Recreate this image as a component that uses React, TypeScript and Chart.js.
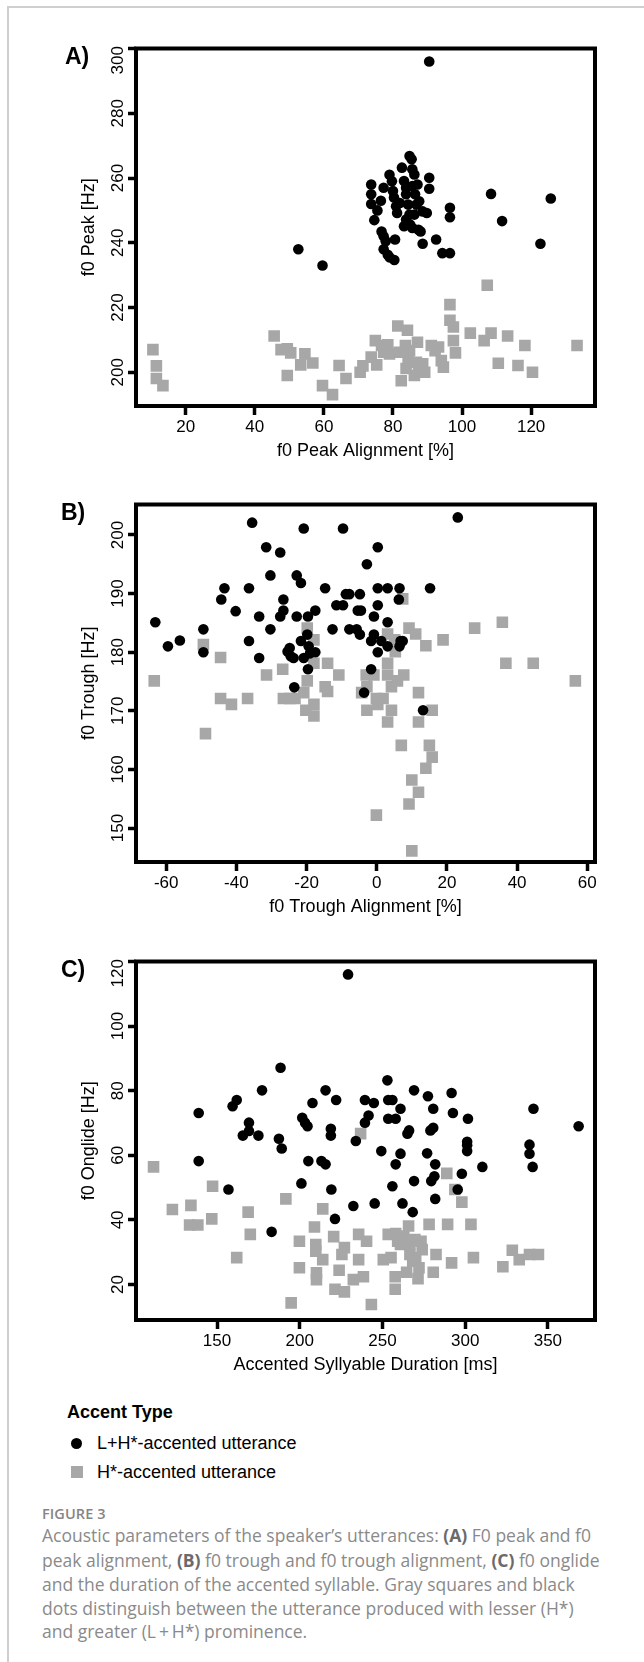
import React, { useEffect, useRef } from 'react';
import { Chart, registerables } from 'chart.js';

Chart.register(...registerables);

// ---------- Panel A: f0 peak vs f0 peak alignment ----------
const peakAlignLH = [90.5, 52.6, 59.6, 73.7, 73.7, 73.7, 74.6, 75.5, 76.5, 77.3, 76.7, 77.3, 77.9, 77.3, 78.5, 79, 80.4, 80.6, 79, 79.7, 80, 80.3, 80.9, 81.2, 82, 82.6, 83.2, 83.8, 83.8, 84.4, 84.8, 83.2, 83.8, 84.8, 85.4, 85.6, 86.2, 85.6, 86.4, 86.8, 86.2, 85, 85.6, 87.4, 88, 87.1, 87.6, 88.6, 89.8, 90.5, 90.5, 88.6, 92.5, 94.3, 96.5, 96.5, 96.5, 108.4, 111.6, 122.7, 125.7];
const peakLH = [296, 238, 233, 258, 255, 252, 247, 250, 253, 257, 243.5, 242, 240.5, 238, 236.3, 235.5, 234.7, 241, 261, 259, 256, 254, 251.3, 249.2, 252.3, 263.2, 259.1, 257, 255, 251.8, 248.7, 245.1, 247.2, 266.8, 265.8, 262.7, 261.1, 257.5, 255, 251.8, 248.7, 245.6, 244.6, 244, 243.5, 258, 252.8, 249.7, 249.2, 260.1, 256.7, 239.7, 241, 236.8, 236.8, 250.8, 247.9, 255.1, 246.7, 239.7, 253.7];
const peakAlignH = [10.5, 11.5, 11.5, 13.4, 45.6, 47.6, 49.4, 50.4, 49.4, 54.5, 53.3, 56.8, 59.6, 62.5, 64.4, 66.4, 70.5, 71.3, 74.9, 73.7, 75.3, 76.7, 77.3, 78.5, 79, 81.4, 84.2, 81.8, 83.6, 84.8, 87.1, 82.4, 83.8, 84.4, 86.2, 87.4, 88.6, 89.2, 86.8, 91.1, 92.2, 93.2, 94, 94.6, 96.5, 96.5, 97.5, 97.5, 98.1, 102.4, 106.4, 107.3, 108.4, 110.5, 113.2, 116.2, 118.2, 120.4, 133.3];
const peakH = [207, 202, 198.1, 195.9, 211.2, 207, 207.3, 206, 199, 205.7, 202.3, 202.9, 195.9, 193.1, 202.1, 198.1, 200, 202, 209.8, 204.7, 202.3, 208.3, 206.2, 208.5, 205.7, 214.3, 213, 206.2, 208.3, 206.7, 209.3, 197.4, 201.2, 203.6, 199, 200.5, 202.6, 200, 203.1, 208.3, 206.7, 207.8, 203.6, 201.6, 220.9, 216.1, 214, 209.8, 206, 212.1, 209.8, 226.9, 212.1, 202.8, 211.2, 202.1, 208.3, 200, 208.3];
const peakAlignTicks = [20, 40, 60, 80, 100, 120];
const peakTicks = [200, 220, 240, 260, 280, 300];

// ---------- Panel B: f0 trough vs f0 trough alignment ----------
const troughAlignLH = [-63.1, -59.5, -56.1, -49.4, -49.4, -44.3, -43.4, -40.2, -36.4, -36.4, -35.5, -33.5, -33.5, -31.5, -30.3, -30.3, -27.5, -26.6, -26.6, -27.5, -25.4, -24.8, -24.5, -23.7, -23.5, -22.8, -22.8, -21.6, -21.6, -20.8, -20.8, -19.8, -19.6, -19.4, -19.6, -19, -17.5, -17.5, -14.7, -12.6, -11.5, -9.6, -9.6, -8.8, -7.8, -7.8, -5.7, -5.4, -4.5, -4.8, -4.8, -2.8, -3.6, -1.6, -0.8, -0.8, -1.6, 0.3, 0.3, 0.3, 0.3, 1.3, 3.1, 3.1, 3.1, 6.5, 6.3, 6.8, 6.5, 7.4, 13.2, 15.2, 23.1];
const troughLH = [185.1, 181, 182, 183.9, 180, 189, 190.9, 187, 190.9, 181.9, 202.1, 186.1, 179, 197.9, 193.1, 183.9, 197, 189, 187.1, 186.1, 180.1, 180.7, 179.3, 179, 174, 193.1, 186.1, 191.8, 181.9, 201.1, 179, 183, 186.1, 181, 177.1, 179.8, 187.1, 180, 190.9, 183.9, 188, 201.1, 188, 189.9, 189.9, 183.9, 183.9, 187.1, 187.1, 183, 189.9, 195, 173.1, 177.1, 186.1, 183, 181.9, 197.9, 190.9, 188, 180, 181.9, 190.9, 185.1, 181, 190.9, 189, 181.9, 181, 181.9, 170.1, 190.9, 203];
const troughAlignH = [-63.4, -49.4, -48.8, -44.5, -44.5, -41.4, -36.8, -31.4, -26.8, -26.6, -24.8, -23.3, -20.8, -19.8, -19.8, -20.2, -17.9, -17.9, -17.9, -17.9, -14, -14.7, -14, -10.8, -3, -2.8, -4.3, -2.8, -0.8, -0.1, 0.3, 1.8, -0.1, 3.1, 3.1, 3.1, 3.1, 4.2, 4.2, 5.1, 5.3, 5.9, 7.7, 7.4, 7, 9.2, 10, 9.2, 10, 11.1, 11.9, 11.9, 11.9, 14, 14, 15, 15.8, 15.8, 18.9, 27.9, 35.8, 36.8, 44.6, 56.6];
const troughH = [175.1, 181.3, 166.1, 179.1, 172.1, 171.1, 172.1, 176.1, 177.1, 172.1, 172.1, 172.1, 173.1, 184.1, 175.1, 170.1, 182.1, 178.1, 171.1, 169.1, 178.1, 174.1, 173.3, 176.1, 176.1, 174.1, 173.1, 170.1, 176.1, 172.1, 171.1, 172.1, 152.2, 183.1, 178.1, 176.1, 168.1, 174.1, 170.1, 182.1, 180.1, 175.1, 176.1, 189.1, 164.1, 184.1, 158.2, 154.1, 146.1, 183.1, 173.1, 168.1, 156.1, 181.1, 160.2, 164.1, 162.1, 170.1, 182.1, 184.1, 185.1, 178.1, 178.1, 175.1];
const troughAlignTicks = [-60, -40, -20, 0, 20, 40, 60];
const troughTicks = [150, 160, 170, 180, 190, 200];

// ---------- Panel C: f0 onglide vs accented syllable duration ----------
const durationLH = [229.2, 188.4, 253, 138.9, 138.9, 159.4, 161.9, 169.3, 169.3, 165.6, 175, 177.2, 156.9, 187.4, 189.1, 183, 201, 201.5, 203.2, 204.7, 205.2, 207.7, 213.1, 215.6, 215.6, 218.8, 218.8, 219.1, 222, 221.3, 232.4, 233.9, 239.4, 239.4, 241.6, 244.8, 245.3, 249.3, 253.5, 253.5, 256, 256, 258, 258, 260.9, 260.9, 262.1, 265.1, 266.1, 268.3, 269.1, 269.1, 277, 277.5, 279, 280.7, 280.7, 279.5, 281.4, 281.9, 281.9, 291.8, 292.6, 298, 295.5, 301.7, 301.2, 301.2, 301.2, 310.4, 338.9, 338.9, 340.8, 341.3, 368.6];
const onglideLH = [116, 87.1, 83.2, 73.1, 58.2, 75.2, 77.1, 70.1, 67.5, 66.1, 66.1, 80.1, 49.4, 65.1, 62.1, 36.3, 51.3, 71.6, 70.1, 69, 58.2, 76.2, 58.2, 57.2, 80.1, 68.2, 66.1, 49.4, 77.1, 40.3, 44.3, 64.4, 77.1, 70.1, 72.3, 76.2, 45.1, 61.3, 77.1, 71.3, 77.1, 50.4, 71.3, 57.2, 74.4, 60.5, 45.1, 66.7, 67.7, 42.4, 80.1, 52, 60.6, 78.3, 67.7, 68.5, 74.4, 52, 53.5, 57.2, 46.5, 79.3, 73.1, 54.3, 49.4, 71.3, 64.2, 63.1, 61.3, 56.4, 63.3, 60.5, 56.4, 74.4, 69];
const durationH = [111.6, 123, 134.2, 133.4, 138.4, 147.3, 146.8, 161.9, 168.8, 170.1, 191.6, 194.8, 199.8, 199.8, 208.9, 209.7, 209.7, 210.1, 210.1, 213.9, 213.9, 220.5, 221.3, 223.8, 227, 225.5, 227, 235.6, 235.6, 232.4, 236.8, 238.5, 240.4, 243.3, 250.5, 255.2, 253.5, 258, 259.2, 257.7, 257.7, 260.9, 262.9, 265.8, 266.6, 266.6, 264.6, 269.6, 268.3, 270.1, 272.1, 271.5, 273.3, 274, 278.2, 282.4, 280.7, 289.4, 288.9, 291.8, 298, 293.8, 303.5, 305, 322.8, 328.5, 332.7, 338.9, 344.3];
const onglideH = [56.4, 43.2, 44.5, 38.4, 38.4, 50.4, 40.3, 28.3, 42.4, 35.5, 46.5, 14.3, 25.2, 33.4, 37.8, 32.4, 30.3, 23.6, 21.5, 43.4, 27.7, 34.8, 18.5, 24.4, 31.4, 29.3, 17.7, 35.5, 27.7, 21.5, 66.7, 22.4, 33.4, 13.8, 27.7, 28.3, 35.5, 35.8, 33.4, 22.4, 18.5, 32.4, 35, 38.1, 32.4, 29.3, 23.8, 33.9, 27.2, 28.3, 25.2, 21.8, 33.4, 30.8, 38.6, 29.3, 23.8, 38.6, 54.4, 26.7, 45.5, 49.4, 38.6, 28.3, 25.5, 30.6, 27.7, 29.3, 29.3];
const durationTicks = [150, 200, 250, 300, 350];
const onglideTicks = [20, 40, 60, 80, 100, 120];

const seriesLabels = ['L+H*-accented utterance', 'H*-accented utterance'];

const AXIS_FONT = "'Liberation Sans', Arial, Helvetica, sans-serif";
const CAPTION_FONT = "'Open Sans', 'Noto Sans', sans-serif";
const BLACK = '#000000';
const GRAY = '#a7a7a7';
const TICK_SIZE = 17;
const TITLE_SIZE = 18;
const Y_AXIS_WIDTH = 136;
const Y_TICK_LEN = 8;
const Y_LABEL_CENTER = 118;
// the top-most y label is pushed inside the frame (as in the original figure)
const TOP_LABEL_PAD = '     ';

const framePlugin = {
  id: 'frameBox',
  afterDraw(chart: any) {
    const { ctx, chartArea: a } = chart;
    ctx.save();
    ctx.strokeStyle = BLACK;
    ctx.lineWidth = 4;
    ctx.lineJoin = 'miter';
    ctx.strokeRect(a.left, a.top, a.right - a.left, a.bottom - a.top);
    ctx.restore();
  },
};

type PanelDef = {
  top: number;
  height: number;
  padTop: number;
  lhX: number[];
  lhY: number[];
  hX: number[];
  hY: number[];
  xMin: number;
  xMax: number;
  yMin: number;
  yMax: number;
  xTicks: number[];
  yTicks: number[];
  xTitle: string;
  yTitle: string;
  label: string;
  labelLeft: number;
};

const panels: PanelDef[] = [
  {
    top: 0, height: 470, padTop: 48.5,
    lhX: peakAlignLH, lhY: peakLH, hX: peakAlignH, hY: peakH,
    xMin: 5.6, xMax: 138.5, yMin: 189.6, yMax: 300,
    xTicks: peakAlignTicks, yTicks: peakTicks,
    xTitle: 'f0 Peak Alignment [%]', yTitle: 'f0 Peak [Hz]', label: 'A)', labelLeft: 65,
  },
  {
    top: 466, height: 460, padTop: 38.5,
    lhX: troughAlignLH, lhY: troughLH, hX: troughAlignH, hY: troughH,
    xMin: -68.6, xMax: 62.2, yMin: 144.2, yMax: 205.2,
    xTicks: troughAlignTicks, yTicks: troughTicks,
    xTitle: 'f0 Trough Alignment [%]', yTitle: 'f0 Trough [Hz]', label: 'B)', labelLeft: 61,
  },
  {
    top: 926, height: 458, padTop: 35.5,
    lhX: durationLH, lhY: onglideLH, hX: durationH, hY: onglideH,
    xMin: 101, xMax: 378.5, yMin: 9, yMax: 120,
    xTicks: durationTicks, yTicks: onglideTicks,
    xTitle: 'Accented Syllyable Duration [ms]', yTitle: 'f0 Onglide [Hz]', label: 'C)', labelLeft: 61,
  },
];

function yLabel(p: PanelDef, v: number): string {
  return v === p.yMax ? `${v}${TOP_LABEL_PAD}` : `${v}`;
}

// padding so that the (rotated, centred) y labels sit at a fixed distance from the frame
function yTickPadding(p: PanelDef): number {
  const c = document.createElement('canvas').getContext('2d');
  let widest = 28.4;
  if (c) {
    c.font = `${TICK_SIZE}px ${AXIS_FONT}`;
    widest = Math.max(...p.yTicks.map((v) => c.measureText(yLabel(p, v)).width));
  }
  return Y_AXIS_WIDTH - Y_TICK_LEN - widest / 2 - Y_LABEL_CENTER;
}

function buildConfig(p: PanelDef): any {
  const tickFont = { family: AXIS_FONT, size: TICK_SIZE };
  const titleFont = { family: AXIS_FONT, size: TITLE_SIZE };
  return {
    type: 'scatter',
    data: {
      datasets: [
        {
          label: seriesLabels[0],
          data: p.lhX.map((x, i) => ({ x, y: p.lhY[i] })),
          pointStyle: 'circle',
          pointRadius: 5.3,
          pointBackgroundColor: BLACK,
          pointBorderColor: BLACK,
          pointBorderWidth: 0,
        },
        {
          label: seriesLabels[1],
          data: p.hX.map((x, i) => ({ x, y: p.hY[i] })),
          pointStyle: 'rect',
          pointRadius: 8.2,
          pointBackgroundColor: GRAY,
          pointBorderColor: GRAY,
          pointBorderWidth: 0,
        },
      ],
    },
    options: {
      animation: false,
      responsive: false,
      devicePixelRatio: 1,
      events: [],
      layout: { padding: { top: p.padTop, right: 49, bottom: 0, left: 0 } },
      plugins: { legend: { display: false }, tooltip: { enabled: false }, title: { display: false } },
      scales: {
        x: {
          type: 'linear',
          position: 'bottom',
          min: p.xMin,
          max: p.xMax,
          afterBuildTicks: (s: any) => { s.ticks = p.xTicks.map((v) => ({ value: v })); },
          afterFit: (s: any) => { s.height = 64; },
          border: { display: false },
          grid: { display: true, drawOnChartArea: false, drawTicks: true, tickLength: 9, tickWidth: 3.5, tickColor: BLACK },
          ticks: { color: BLACK, font: tickFont, padding: 2, autoSkip: false, maxRotation: 0, minRotation: 0 },
          title: { display: true, text: p.xTitle, color: BLACK, font: titleFont, padding: { top: 0, bottom: 8 } },
        },
        y: {
          type: 'linear',
          position: 'left',
          min: p.yMin,
          max: p.yMax,
          afterBuildTicks: (s: any) => { s.ticks = p.yTicks.map((v) => ({ value: v })); },
          afterFit: (s: any) => { s.width = Y_AXIS_WIDTH; },
          border: { display: false },
          grid: { display: true, drawOnChartArea: false, drawTicks: true, tickLength: Y_TICK_LEN, tickWidth: 3.5, tickColor: BLACK },
          ticks: {
            color: BLACK,
            font: tickFont,
            padding: yTickPadding(p),
            autoSkip: false,
            minRotation: 90,
            maxRotation: 90,
            crossAlign: 'center',
            callback: (v: any) => yLabel(p, Number(v)),
          },
          title: { display: true, text: p.yTitle, color: BLACK, font: titleFont, padding: { top: 78, bottom: 0 } },
        },
      },
    },
    plugins: [framePlugin],
  };
}

function ScatterPanel({ p }: { p: PanelDef }) {
  const ref = useRef<HTMLCanvasElement | null>(null);
  useEffect(() => {
    if (!ref.current) return;
    const chart = new Chart(ref.current, buildConfig(p));
    return () => chart.destroy();
  }, [p]);
  return (
    <>
      <canvas
        ref={ref}
        width={644}
        height={p.height}
        style={{ position: 'absolute', left: 0, top: p.top, width: 644, height: p.height, display: 'block' }}
      />
      <div
        style={{
          position: 'absolute',
          left: p.labelLeft,
          top: p.top + p.padTop - 4,
          font: `bold 23px ${AXIS_FONT}`,
          lineHeight: '23px',
          color: BLACK,
          whiteSpace: 'nowrap',
        }}
      >
        {p.label}
      </div>
    </>
  );
}

export default function App() {
  const legendText: React.CSSProperties = {
    position: 'absolute',
    left: 97,
    font: `18px ${AXIS_FONT}`,
    lineHeight: '22px',
    color: BLACK,
    whiteSpace: 'nowrap',
  };
  const capLine: React.CSSProperties = {
    position: 'absolute',
    left: 42,
    font: `17.5px ${CAPTION_FONT}`,
    lineHeight: '24px',
    color: '#8a8a8a',
    whiteSpace: 'nowrap',
  };
  const b: React.CSSProperties = { fontWeight: 700, color: '#6a6a6a' };
  return (
    <div style={{ position: 'absolute', left: 0, top: 0, width: 644, height: 1662, background: '#fff', overflow: 'hidden' }}>
      <div
        style={{
          position: 'absolute',
          left: 7,
          top: 6,
          width: 637,
          height: 1656,
          borderLeft: '2px solid #cfcfcf',
          borderTop: '2px solid #cfcfcf',
          boxSizing: 'border-box',
        }}
      />
      {panels.map((p) => (
        <ScatterPanel key={p.label} p={p} />
      ))}

      <div style={{ position: 'absolute', left: 67, top: 1401, font: `bold 18px ${AXIS_FONT}`, lineHeight: '22px', color: BLACK, whiteSpace: 'nowrap' }}>
        Accent Type
      </div>
      <div style={{ position: 'absolute', left: 70.5, top: 1437.5, width: 11, height: 11, borderRadius: '50%', background: BLACK }} />
      <div style={{ ...legendText, top: 1432 }}>{seriesLabels[0]}</div>
      <div style={{ position: 'absolute', left: 70.5, top: 1465.5, width: 12, height: 12, background: GRAY }} />
      <div style={{ ...legendText, top: 1461 }}>{seriesLabels[1]}</div>

      <div style={{ position: 'absolute', left: 42, top: 1503, font: `600 14.5px ${CAPTION_FONT}`, lineHeight: '22px', color: '#858585', letterSpacing: '0.1px' }}>
        FIGURE 3
      </div>
      <div style={{ ...capLine, top: 1523 }}>
        Acoustic parameters of the speaker’s utterances: <span style={b}>(A)</span> F0 peak and f0
      </div>
      <div style={{ ...capLine, top: 1548 }}>
        peak alignment, <span style={b}>(B)</span> f0 trough and f0 trough alignment, <span style={b}>(C)</span> f0 onglide
      </div>
      <div style={{ ...capLine, top: 1572 }}>and the duration of the accented syllable. Gray squares and black</div>
      <div style={{ ...capLine, top: 1596 }}>dots distinguish between the utterance produced with lesser (H*)</div>
      <div style={{ ...capLine, top: 1619 }}>and greater (L{'\u2009'}+{'\u2009'}H*) prominence.</div>
    </div>
  );
}
